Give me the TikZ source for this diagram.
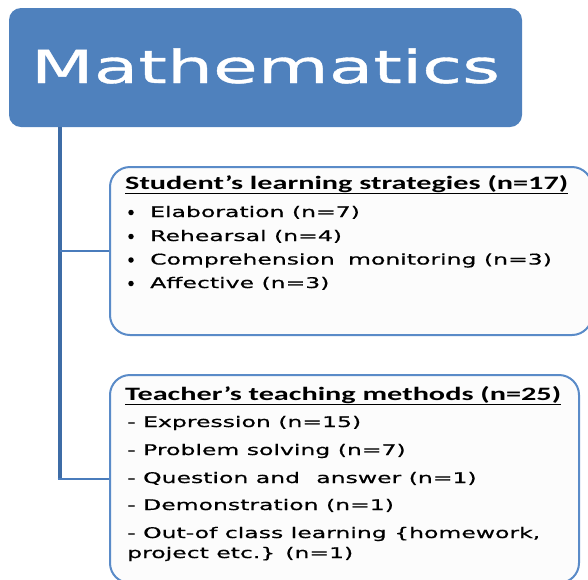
\documentclass[tikz,border=0pt]{standalone}
\usepackage{fontspec}
\setmainfont{DejaVu Sans}
\newfontfamily\itemfont[FakeStretch=1.6, FakeBold=0.6]{DejaVu Sans}
\newfontfamily\titlefont[FakeStretch=1.6, FakeBold=0.8]{DejaVu Sans}
\newfontfamily\headfont[FakeStretch=1.6]{Carlito}
\definecolor{mathblue}{HTML}{4F81BD}
\definecolor{trunkblue}{HTML}{3E6CA6}
\definecolor{branchblue}{HTML}{4A7CBC}
\definecolor{boxedge}{HTML}{5A8BC8}
\definecolor{boxfill}{HTML}{FCFCFC}
\tikzset{
  mathbox/.style={draw=none, fill=mathblue, rounded corners=12pt, minimum width=513pt, minimum height=119pt, inner sep=0pt},
  catbox/.style={draw=boxedge, line width=2pt, fill=boxfill, rounded corners=20pt, inner sep=0pt},
  trunk/.style={trunkblue, line width=4pt},
  branch/.style={branchblue, line width=2pt},
  headtxt/.style={anchor=base west, inner sep=0pt, font=\headfont\bfseries\fontsize{18.9}{21}\selectfont, text=black},
  itemtxt/.style={anchor=base west, inner sep=0pt, font=\itemfont\fontsize{14.7}{16}\selectfont, text=black},
  bul/.style={circle, fill=black, inner sep=0pt, minimum size=5.5pt}
}
\begin{document}
\begin{tikzpicture}[x=1pt, y=-1pt]
\useasboundingbox (0,0) rectangle (588,579);
\clip (0,0) rectangle (588,579);
% boxes
\node[mathbox] (math) at (265.5,67.5) {};
\node[inner sep=0pt, text=white, font=\titlefont\fontsize{45.5}{50}\selectfont, anchor=base] (mtitle) at (265.5,83) {Mathematics};
\node[catbox, minimum width=482pt, minimum height=168pt] (box1) at (351,251) {};
\node[catbox, minimum width=469pt, minimum height=208pt] (box2) at (344.5,479) {};
% connectors
\coordinate (stem) at (59.5,0);
\draw[trunk] (stem |- math.south) -- ([yshift=1pt]stem |- box2.west);
\draw[branch] (stem |- box1.west) -- (box1.west);
\draw[branch] ([xshift=-2pt]stem |- box2.west) -- (box2.west);
% box 1 text
\node[headtxt] (h1) at (125,189) {\underline{Student’s learning strategies (n=17)}};
\node[bul] (b1) at (131,212.5) {};
\node[bul] (b2) at (131,236.5) {};
\node[bul] (b3) at (131,260) {};
\node[bul] (b4) at (131,283.5) {};
\node[itemtxt] (i1) at (150,217) {Elaboration (n=7)};
\node[itemtxt] (i2) at (150,241) {Rehearsal (n=4)};
\node[itemtxt] (i3) at (150,264.5) {Comprehension\hspace{0.9em}monitoring (n=3)};
\node[itemtxt] (i4) at (150,288) {Affective (n=3)};
% box 2 text
\node[headtxt] (h2) at (125,400) {\underline{Teacher’s teaching methods (n=25)}};
\node[itemtxt] (t1) at (127,427) {- Expression (n=15)};
\node[itemtxt] (t2) at (127,455) {- Problem solving (n=7)};
\node[itemtxt] (t3) at (127,483) {- Question and\hspace{1.1em}answer (n=1)};
\node[itemtxt] (t4) at (127,510) {- Demonstration (n=1)};
\node[itemtxt] (t5) at (127,538) {- Out-of class learning \{homework,};
\node[itemtxt] (t6) at (127,558) {project etc.\} (n=1)};
\end{tikzpicture}
\end{document}
